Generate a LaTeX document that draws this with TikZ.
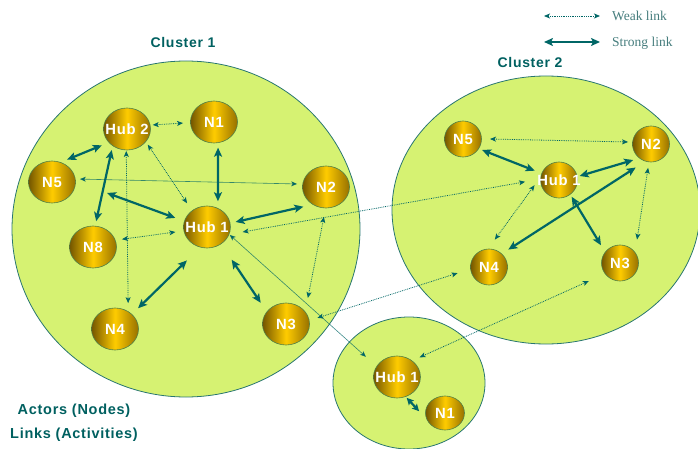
\documentclass[tikz,border=0pt]{standalone}
\usepackage{fontspec}
\usetikzlibrary{shapes.geometric,arrows.meta,calc}

\newfontfamily\sansbold{Liberation Sans}[LetterSpace=5]
\newfontfamily\legendserif{Liberation Serif}

\definecolor{clusterfill}{RGB}{214,242,114}
\definecolor{clusteredge}{RGB}{40,118,112}
\definecolor{linkteal}{RGB}{0,102,102}
\definecolor{titleteal}{RGB}{0,96,96}
\definecolor{legendgrey}{RGB}{70,125,125}
\definecolor{golddark}{RGB}{115,85,0}
\definecolor{goldmid}{RGB}{255,204,0}
\definecolor{goldright}{RGB}{150,112,0}
\definecolor{nodeedge}{RGB}{80,128,70}

\tikzset{
  actor/.style={ellipse, draw=nodeedge, line width=0.6pt, inner sep=0pt,
    left color=golddark, right color=goldright, middle color=goldmid,
    minimum width=47pt, minimum height=42pt},
  smallactor/.style={actor, minimum width=37pt, minimum height=36pt},
  actorname/.style={text=white, inner sep=0pt,
    font=\sansbold\bfseries\fontsize{14.8}{14.8}\selectfont},
  clustertitle/.style={text=titleteal, inner sep=0pt,
    font=\sansbold\bfseries\fontsize{14}{14}\selectfont},
  caption/.style={text=titleteal, inner sep=0pt,
    font=\sansbold\bfseries\fontsize{14.5}{14.5}\selectfont},
  legendtext/.style={text=legendgrey, inner sep=0pt,
    font=\legendserif\fontsize{13.5}{13.5}\selectfont},
  strong/.style={draw=linkteal, line width=2.2pt,
    arrows={Stealth[length=9pt,width=8pt,inset=2pt]-Stealth[length=9pt,width=8pt,inset=2pt]}},
  weak/.style={draw=linkteal, line width=0.8pt, densely dotted,
    arrows={Stealth[length=6pt,width=5pt,inset=1.5pt]-Stealth[length=6pt,width=5pt,inset=1.5pt]}},
  faint/.style={draw=linkteal, draw opacity=0.75, line width=0.6pt,
    arrows={Stealth[length=6pt,width=5pt,inset=1.5pt]-Stealth[length=6pt,width=5pt,inset=1.5pt]}},
}

\begin{document}
\begin{tikzpicture}[x=1pt,y=-1pt]
\useasboundingbox (0,0) rectangle (698,449);

% cluster areas: fills first, then outlines so every rim stays visible
\fill[clusterfill] (186,229) ellipse [x radius=174pt, y radius=168pt];
\fill[clusterfill] (546,210) ellipse [x radius=154pt, y radius=134pt];
\fill[clusterfill] (409,383) ellipse [x radius=76pt, y radius=66pt];
\draw[clusteredge, line width=0.8pt] (186,229) ellipse [x radius=174pt, y radius=168pt];
\draw[clusteredge, line width=0.8pt] (546,210) ellipse [x radius=154pt, y radius=134pt];
\draw[clusteredge, line width=0.8pt] (409,383) ellipse [x radius=76pt, y radius=66pt];

% titles and captions
\node[clustertitle] (titleA) at (183,42) {Cluster 1};
\node[clustertitle] (titleB) at (530,62) {Cluster 2};
\node[caption] (capA) at (74,411) {Actors (Nodes)};
\node[caption] (capB) at (74,435) {Links (Activities)};

% legend
\coordinate (wkL) at (544,16);
\coordinate (wkR) at (600,16);
\coordinate (stL) at (544,42);
\coordinate (stR) at (600,42);
\draw[weak] (wkL) -- (wkR);
\draw[strong] (stL) -- (stR);
\node[legendtext, anchor=west] (legWeak) at (612,16) {Weak link};
\node[legendtext, anchor=west] (legStrong) at (612,43) {Strong link};

% cluster 1 actors
\node[actor, label={[actorname]center:Hub 2}] (hubB) at (127,129) {};
\node[actor, label={[actorname]center:N1}] (nOne) at (214,122) {};
\node[actor, label={[actorname]center:N5}] (nFive) at (52,182) {};
\node[actor, label={[actorname]center:N2}] (nTwo) at (326,187) {};
\node[actor, label={[actorname]center:Hub 1}] (hubA) at (207,227) {};
\node[actor, label={[actorname]center:N8}] (nEight) at (93,247) {};
\node[actor, label={[actorname]center:N4}] (nFour) at (115,329) {};
\node[actor, label={[actorname]center:N3}] (nThree) at (286,324) {};

% cluster 2 actors
\node[smallactor, label={[actorname]center:N5}] (cbFive) at (463,139) {};
\node[smallactor, label={[actorname]center:N2}] (cbTwo) at (651,144) {};
\node[smallactor, label={[actorname]center:Hub 1}] (cbHub) at (559,180) {};
\node[smallactor, label={[actorname]center:N4}] (cbFour) at (489,267) {};
\node[smallactor, label={[actorname]center:N3}] (cbThree) at (620,263) {};

% cluster 3 actors
\node[actor, label={[actorname]center:Hub 1}] (ccHub) at (397,377) {};
\node[actor, minimum width=39pt, minimum height=34pt,
      label={[actorname]center:N1}] (ccOne) at (445,413) {};

% links inside cluster 1
\coordinate (freeA) at (107,193);
\draw[weak]   ($(hubB)+(9:26pt)$)    -- ($(nOne)+(182:31pt)$);
\draw[strong] ($(hubB)+(213:30pt)$)  -- ($(nFive)+(56:27pt)$);
\draw[strong] ($(hubB)+(234:26pt)$)  -- ($(nEight)+(83:26pt)$);
\draw[weak]   ($(hubB)+(268:22pt)$)  -- ($(nFour)+(63:29pt)$);
\draw[weak]   ($(hubB)+(323:26pt)$)  -- ($(hubA)+(130:31pt)$);
\draw[strong] ($(nOne)+(279:26pt)$)  -- ($(hubA)+(67:28pt)$);
\draw[faint]  ($(nFive)+(6:28pt)$)   -- ($(nTwo)+(174:29pt)$);
\draw[strong] (freeA)                -- ($(hubA)+(164:33pt)$);
\draw[weak]   ($(nEight)+(15:30pt)$) -- ($(hubA)+(189:32pt)$);
\draw[strong] ($(hubA)+(10:29pt)$)   -- ($(nTwo)+(221:30pt)$);
\draw[strong] ($(hubA)+(239:39pt)$)  -- ($(nFour)+(42:31pt)$);
\draw[strong] ($(hubA)+(307:41pt)$)  -- ($(nThree)+(140:33pt)$);
\draw[weak]   ($(nTwo)+(266:30pt)$)  -- ($(nThree)+(50:34pt)$);

% links inside cluster 2
\draw[weak]   ($(cbFive)+(0:27pt)$)    -- ($(cbTwo)+(175:23pt)$);
\draw[strong] ($(cbFive)+(330:22pt)$)  -- ($(cbHub)+(159:26pt)$);
\draw[strong] ($(cbHub)+(11:21pt)$)    -- ($(cbTwo)+(222:24pt)$);
\draw[strong] ($(cbFour)+(42:26pt)$)   -- ($(cbTwo)+(237:28pt)$);
\draw[weak]   ($(cbHub)+(192:25pt)$)   -- ($(cbFour)+(78:28pt)$);
\draw[strong] ($(cbHub)+(307:21pt)$)   -- ($(cbThree)+(137:26pt)$);
\draw[weak]   ($(cbTwo)+(263:24pt)$)   -- ($(cbThree)+(54:29pt)$);

% link inside cluster 3
\draw[strong, arrows={Stealth[length=7pt,width=7pt,inset=1.5pt]-Stealth[length=7pt,width=7pt,inset=1.5pt]}]
      ($(ccHub)+(295:23pt)$) -- ($(ccOne)+(176:26pt)$);

% links between clusters
\draw[weak]  ($(hubA)+(352:36pt)$)   -- ($(cbHub)+(183:34pt)$);
\draw[weak]  ($(nThree)+(11:32pt)$)  -- ($(cbFour)+(191:32pt)$);
\draw[faint] ($(hubA)+(341:24pt)$)   -- ($(ccHub)+(147:37pt)$);
\draw[weak]  ($(ccHub)+(41:30pt)$)   -- ($(cbThree)+(210:36pt)$);
\end{tikzpicture}
\end{document}
